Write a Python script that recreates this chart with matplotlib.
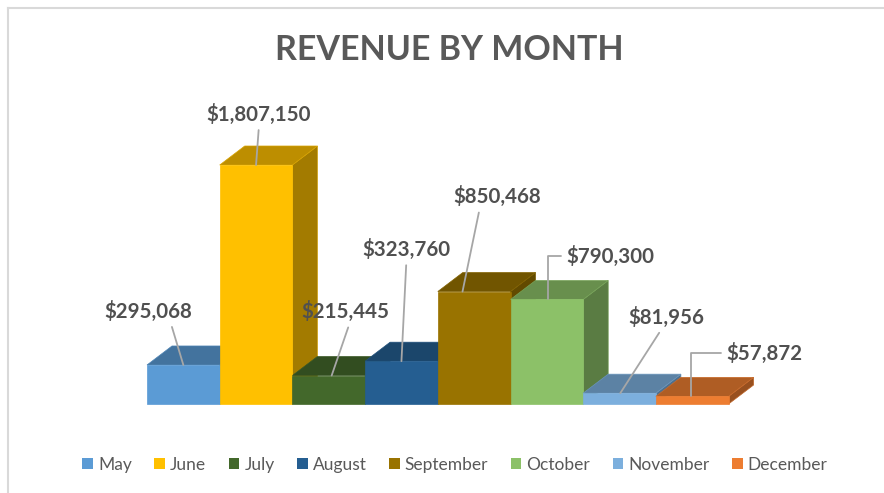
import matplotlib.pyplot as plt
from matplotlib.patches import Polygon, Patch
from matplotlib.lines import Line2D
import numpy as np

plt.rcParams['font.family'] = ['Lato', 'DejaVu Sans']

months = ["May", "June", "July", "August", "September", "October", "November", "December"]
revenue = [295068, 1807150, 215445, 323760, 850468, 790300, 81956, 57872]
colors = ["#5B9BD5", "#FFC000", "#43682B", "#255E91", "#997300", "#8CC168", "#7CAFDD", "#ED7D31"]

# label placement: anchor on bar top (fraction of bar width), text offset in pixels,
# start point on text box (relpos), elbow connector or straight
lab_frac = [0.5, 0.5, 0.54, 0.5, 0.34, 0.52, 0.51, 0.48]
lab_off = [(-35, 54), (3, 51), (14, 64), (5, 112), (35, 95), (62, 43), (46, 76), (74, 43)]
lab_rel = [(0.75, 0.0), (0.5, 0.0), (0.55, 0.0), (0.5, 0.0), (0.3, 0.0), (0.0, 0.5), (0.45, 0.0), (0.0, 0.5)]
lab_elbow = [False, False, False, False, False, True, False, True]

W, H, DPI = 884, 493, 100
fig = plt.figure(figsize=(W / DPI, H / DPI), dpi=DPI)
ax = fig.add_axes([0, 0, 1, 1])
ax.set_axis_off()

px_x = 72.7            # pixels per bar
px_v = 239 / 1807150   # pixels per dollar
x0, base = 147, 404
ax.set_xlim(-x0 / px_x, (W - x0) / px_x)
ax.set_ylim(-(H - base) / px_v, base / px_v)

DX = 25 / px_x
DY = 19 / px_v


def shade(c, f):
    c = np.array(plt.matplotlib.colors.to_rgb(c))
    return tuple(c * f)


for i, (v, c) in enumerate(zip(revenue, colors)):
    side = [(i + 1, 0), (i + 1 + DX, DY), (i + 1 + DX, v + DY), (i + 1, v)]
    top = [(i, v), (i + DX, v + DY), (i + 1 + DX, v + DY), (i + 1, v)]
    front = [(i, 0), (i + 1, 0), (i + 1, v), (i, v)]
    ax.add_patch(Polygon(side, closed=True, fc=shade(c, 0.64), ec=shade(c, 0.8), lw=0.5))
    ax.add_patch(Polygon(top, closed=True, fc=shade(c, 0.74), ec=shade(c, 0.85), lw=0.5))
    ax.add_patch(Polygon(front, closed=True, fc=c, ec=shade(c, 1.0), lw=0.5))

for i, v in enumerate(revenue):
    if lab_elbow[i]:
        cs = "angle,angleA=180,angleB=90,rad=0"
    else:
        cs = "arc3"
    ax.annotate("${:,}".format(v), xy=(i + lab_frac[i], v), xytext=lab_off[i],
                textcoords="offset pixels", ha="center", va="center",
                fontsize=14.8, fontweight="bold", color="#505050",
                arrowprops=dict(arrowstyle="-", color="#A6A6A6", lw=1.3,
                                shrinkA=2, shrinkB=0, relpos=lab_rel[i],
                                connectionstyle=cs))

fig.text(449 / W, 1 - 50 / H, "REVENUE BY MONTH", ha="center", va="center",
         fontsize=24.5, fontweight="bold", color="#595959")

handles = [Patch(facecolor=c, edgecolor="none") for c in colors]
fig.legend(handles, months, loc="center", bbox_to_anchor=(455 / W, 1 - 465 / H),
           ncol=8, frameon=False, fontsize=12.5, handlelength=0.6, handleheight=0.6,
           handletextpad=0.3, columnspacing=1.3, labelcolor="#595959")

# chart area border (top and left visible)
fig.add_artist(Line2D([8 / W, 1], [1 - 8 / H, 1 - 8 / H], color="#D9D9D9", lw=1.5))
fig.add_artist(Line2D([8 / W, 8 / W], [0, 1 - 8 / H], color="#D9D9D9", lw=1.5))

fig.savefig("out.png", dpi=DPI)
